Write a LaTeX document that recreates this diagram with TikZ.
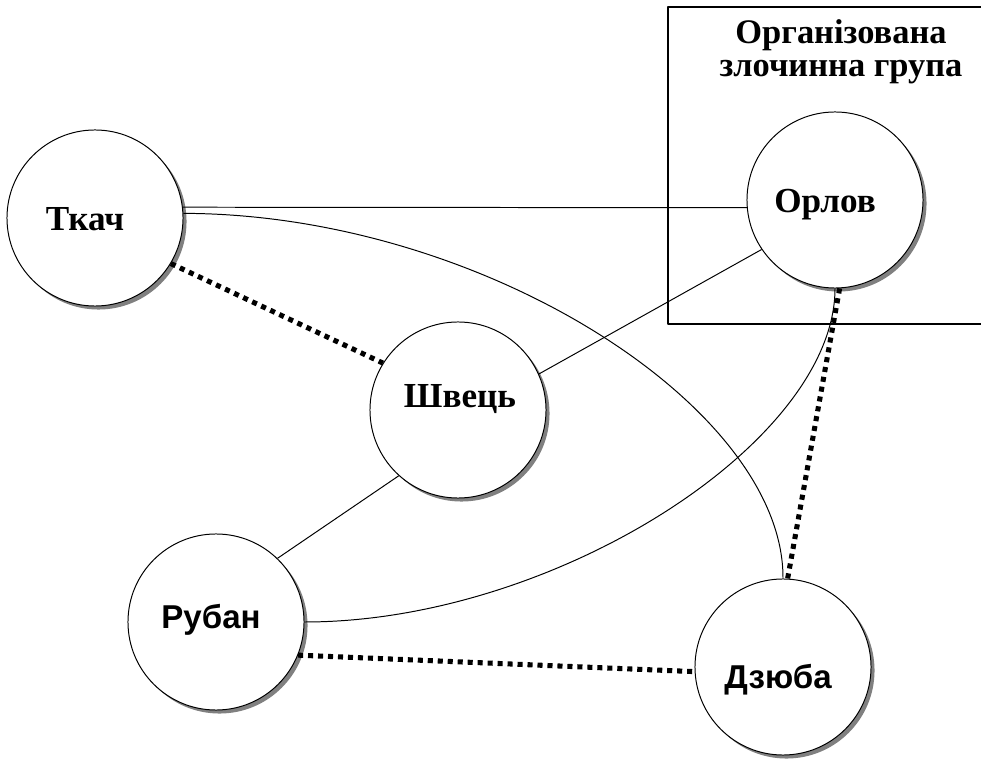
\documentclass[tikz,border=0pt]{standalone}
\usepackage{fontspec}
\setmainfont{Liberation Serif}
\newfontfamily\arialfont{Liberation Sans}
\usetikzlibrary{shadows}

\tikzset{
  person/.style={circle, draw, line width=0.7pt, fill=white, minimum size=4.4cm, inner sep=0pt,
    drop shadow={shadow xshift=2.5pt, shadow yshift=-2.5pt, fill=gray, opacity=1}},
  who/.style={anchor=base, inner sep=0pt, font=\fontsize{25}{24}\selectfont\bfseries},
  tie/.style={line width=0.7pt},
  hidden/.style={line width=3.6pt, dash pattern=on 3.6pt off 3.5pt}
}

\begin{document}
\begin{tikzpicture}[line join=round, x=0.025cm, y=-0.025cm]
\useasboundingbox (0,0) rectangle (981,760);
% group box
\draw [line width=0.8pt] (668,7) rectangle (1000,324);
\node [who, anchor=north, align=center, font=\fontsize{24.5}{24}\selectfont\bfseries] (group) at (841,19) {Організована\\злочинна група};
% people
\node [person] (tk) at (95,218) {};
\node [person] (or) at (835,200) {};
\node [person] (sv) at (458,410) {};
\node [person] (rb) at (216,622) {};
\node [person] (dz) at (783,667) {};
\node [who] (tk-name) at (85,231) {Ткач};
\node [who] (or-name) at (825,213) {Орлов};
\node [who] (sv-name) at (460,408) {Швець};
\node [who, font=\fontsize{23.5}{24}\selectfont\bfseries] (rb-name) at (211,628) {\arialfont Рубан};
\node [who, font=\fontsize{23.5}{24}\selectfont\bfseries] (dz-name) at (778,688) {\arialfont Дзюба};
% links
\draw [tie] (tk.7) -- (or.185);
\draw [tie] (tk.3) .. controls (483,214) and (784,408) .. (dz.north);
\draw [tie] (sv.24) -- (or.214);
\draw [tie] (sv.228) -- (rb.46);
\draw [tie] (rb.east) .. controls (555,622) and (835,442) .. (or.south);
\draw [hidden] (tk.-31) -- (sv.148);
\draw [hidden] (or.-87) -- (dz.87);
\draw [hidden] (rb.-22) -- (dz.183);
\end{tikzpicture}
\end{document}
